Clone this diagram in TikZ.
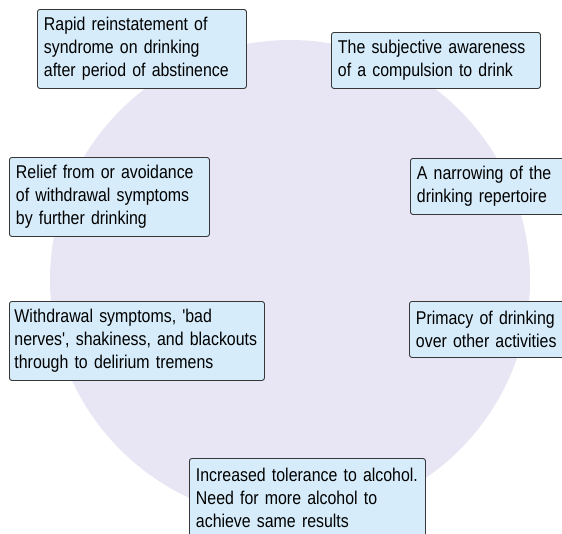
\documentclass[tikz,border=0pt]{standalone}
\usepackage{fontspec}
\newfontfamily\boxfont{Liberation Sans}[FakeStretch=0.86]
\definecolor{ringfill}{RGB}{232,230,244}
\definecolor{boxfill}{RGB}{214,236,250}
\definecolor{boxline}{RGB}{55,55,55}

\begin{document}
\begin{tikzpicture}[
    x=1pt, y=-1pt,
    box/.style={
        draw=boxline,
        fill=boxfill,
        line width=0.9pt,
        rounded corners=2.5pt,
        anchor=north west,
        align=left,
        inner xsep=6.5pt,
        inner ysep=0pt,
        text width=#1,
        font=\boxfont\fontsize{18.5}{23}\selectfont
    },
    three/.style={box=#1, minimum height=79pt},
    two/.style={box=#1, minimum height=56pt}
]
    \useasboundingbox (0,0) rectangle (562,533);
    \clip (0,0) rectangle (562,533);

    % background disc
    \fill[ringfill] (290,280) circle[radius=240pt];

    \node[three=196pt] (reinstate) at (37,9) {Rapid reinstatement of\\syndrome on drinking\\after period of abstinence};
    \node[two=196pt] (compulsion) at (331,32) {The subjective awareness\\of a compulsion to drink};
    \node[three=187pt] (relief) at (9,157) {Relief from or avoidance\\of withdrawal symptoms\\by further drinking};
    \node[two=187pt] (narrowing) at (410,158) {A narrowing of the\\drinking repertoire};
    \node[three=245pt, inner xsep=5pt] (withdrawal) at (9,301) {Withdrawal symptoms, 'bad\\\mbox{nerves', shakiness, and blackouts}\\through to delirium tremens};
    \node[two=187pt] (primacy) at (409,301) {Primacy of drinking\\over other activities};
    \node[three=223pt] (tolerance) at (189,458) {Increased tolerance to alcohol.\\Need for more alcohol to\\achieve same results};
\end{tikzpicture}
\end{document}
